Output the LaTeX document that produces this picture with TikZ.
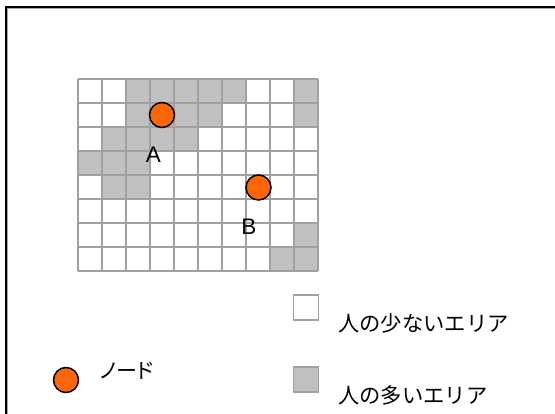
\documentclass[tikz,border=0pt]{standalone}
\usepackage{fontspec}
\setmainfont{Liberation Sans}
\newfontfamily\jp{Noto Sans CJK JP}
\newfontfamily\jpprop[RawFeature=+palt]{Noto Sans CJK JP}
\definecolor{cellgray}{HTML}{C0C0C0}
\definecolor{gridline}{HTML}{A0A0A0}
\definecolor{nodeorange}{HTML}{FF6600}
\tikzset{
  dot/.style={circle, minimum size=25pt, inner sep=0pt, fill=nodeorange, draw=black, line width=1.5pt},
  legbox/.style={rectangle, minimum size=25pt, inner sep=0pt, draw=gridline, line width=1.5pt},
  lbl/.style={inner sep=0pt, font=\fontsize{22.5}{26}\selectfont},
  jptext/.style={inner sep=0pt, anchor=west, font=\jp\fontsize{21.3}{25}\selectfont},
  gridln/.style={draw=gridline, line width=2pt}
}
\begin{document}
\begin{tikzpicture}[x=1pt,y=-1pt]
\useasboundingbox (0,0) rectangle (555,414);
\fill[white] (0,0) rectangle (555,414);
% frame
\draw[gray!70, line width=1pt] (7.8,414) -- (7.8,8.8) -- (555,8.8);
\draw[black, line width=1.8pt] (6,414) -- (6,7) -- (555,7);
% gray cells
\foreach \c/\r in {2/0,3/0,4/0,5/0,6/0,9/0,
                   2/1,3/1,4/1,5/1,9/1,
                   1/2,2/2,3/2,4/2,
                   0/3,1/3,2/3,
                   1/4,2/4,
                   9/6,
                   8/7,9/7}
  \fill[cellgray] (78+24*\c,79+24*\r) rectangle ++(24,24);
% grid lines
\foreach \i in {0,...,10} \draw[gridln] (78+24*\i,79) -- (78+24*\i,271);
\foreach \j in {0,...,8} \draw[gridln] (78,79+24*\j) -- (318,79+24*\j);
% nodes
\node[dot] (A) at (162,115) {};
\node[dot] (B) at (258.5,187.5) {};
\node[lbl] (labA) at (153.5,155) {A};
\node[lbl] (labB) at (249,226.5) {B};
% legend
\node[legbox, fill=white] (legW) at (306,307.5) {};
\node[jptext] (txtW) at (338,323) {人の少ないエリア};
\node[legbox, fill=cellgray] (legG) at (306,379.5) {};
\node[jptext] (txtG) at (338,395) {人の多いエリア};
\node[dot] (legN) at (66,380) {};
\node[jptext, font=\jpprop\fontsize{21}{24}\selectfont] (txtN) at (100,371) {ノード};
\end{tikzpicture}
\end{document}
